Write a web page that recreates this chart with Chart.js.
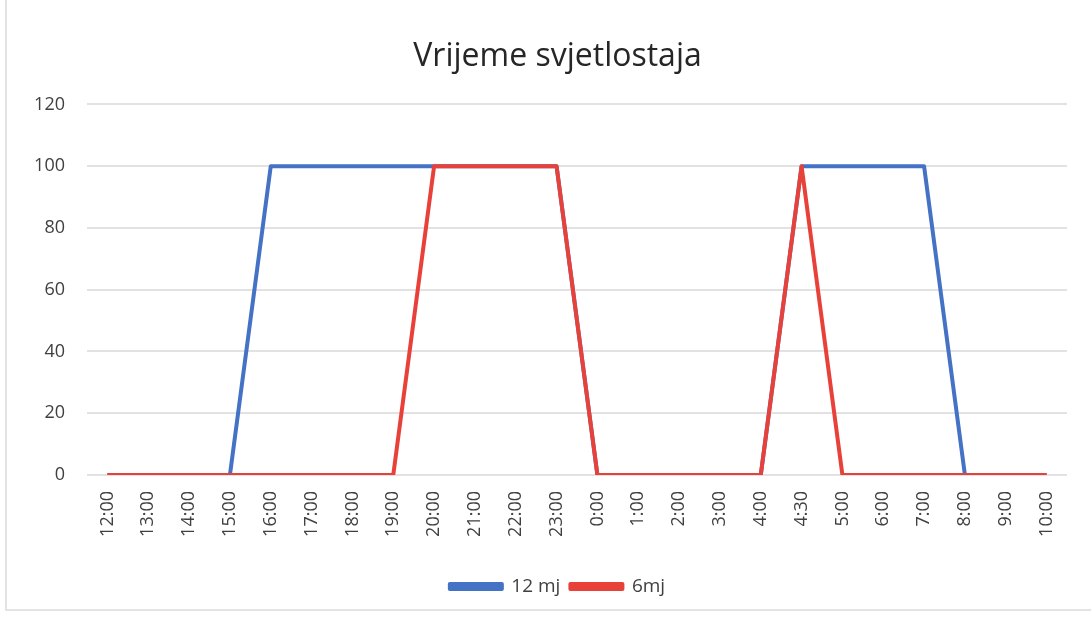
<!DOCTYPE html>
<html lang="hr">
<head>
<meta charset="UTF-8">
<title>Vrijeme svjetlostaja</title>
<style>
  html, body { margin: 0; padding: 0; background: #fff; }
  .wrap { position: relative; width: 1091px; height: 620px; }
  .frame { position: absolute; left: 5px; top: 0; width: 1086px; height: 611px;
           border-left: 2px solid #e3e3e3; border-bottom: 2px solid #e3e3e3; box-sizing: border-box; }
  canvas { position: absolute; left: 0; top: 0; }
</style>
</head>
<body>
<div class="wrap">
  <div class="frame"></div>
  <canvas id="chart" width="1091" height="620"></canvas>
</div>
<script src="https://cdn.jsdelivr.net/npm/chart.js"></script>
<script>
const times = ['12:00', '13:00', '14:00', '15:00', '16:00', '17:00', '18:00', '19:00',
  '20:00', '21:00', '22:00', '23:00', '0:00', '1:00', '2:00', '3:00', '4:00', '4:30',
  '5:00', '6:00', '7:00', '8:00', '9:00', '10:00'];
const months12 = [0, 0, 0, 0, 100, 100, 100, 100, 100, 100, 100, 100, 0, 0, 0, 0, 0, 100,
  100, 100, 100, 0, 0, 0];
const months6 = [0, 0, 0, 0, 0, 0, 0, 0, 100, 100, 100, 100, 0, 0, 0, 0, 0, 100,
  0, 0, 0, 0, 0, 0];
const yTicks = [0, 20, 40, 60, 80, 100, 120];

const FONT = '"Open Sans", "Noto Sans", sans-serif';

// title and legend sit a bit right of the canvas centre in the original
const shiftCenter = {
  id: 'shiftCenter',
  afterLayout(chart) {
    for (const box of [chart.titleBlock, chart.legend]) {
      if (!box) continue;
      box.left += 24;
      box.right += 24;
    }
  }
};

new Chart(document.getElementById('chart'), {
  type: 'line',
  data: {
    labels: times,
    datasets: [{
      label: '12 mj',
      data: months12,
      borderColor: '#4472C4',
      backgroundColor: '#4472C4',
      borderWidth: 4,
      borderJoinStyle: 'round',
      pointRadius: 0,
      tension: 0,
      order: 2
    }, {
      label: '6mj',
      data: months6,
      borderColor: '#E8413A',
      backgroundColor: '#E8413A',
      borderWidth: 4,
      borderJoinStyle: 'round',
      pointRadius: 0,
      tension: 0,
      order: 1
    }]
  },
  plugins: [shiftCenter],
  options: {
    responsive: false,
    animation: false,
    layout: { padding: { top: 18, right: 24, bottom: 14, left: 0 } },
    scales: {
      x: {
        offset: true,
        grid: { display: false },
        border: { display: false },
        ticks: {
          color: '#404040',
          font: { family: FONT, size: 18 },
          minRotation: 90,
          maxRotation: 90,
          autoSkip: false,
          padding: 8
        },
        afterFit: (axis) => { axis.height = 92; }
      },
      y: {
        min: 0,
        max: 120,
        afterBuildTicks: (axis) => { axis.ticks = yTicks.map(v => ({ value: v })); },
        grid: { color: '#e2e2e2', lineWidth: 2, drawTicks: false },
        border: { display: false },
        ticks: {
          color: '#404040',
          font: { family: FONT, size: 18 },
          padding: 22
        },
        afterFit: (axis) => { axis.width = 87; }
      }
    },
    plugins: {
      title: {
        display: true,
        text: 'Vrijeme svjetlostaja',
        color: '#262626',
        font: { family: FONT, size: 32, weight: 'normal' },
        padding: { top: 20, bottom: 28 }
      },
      legend: {
        position: 'bottom',
        labels: {
          color: '#404040',
          font: { family: FONT, size: 19 },
          boxWidth: 52,
          boxHeight: 5,
          padding: 10,
          sort: (a, b) => a.datasetIndex - b.datasetIndex
        }
      },
      tooltip: { enabled: false }
    }
  }
});
</script>
</body>
</html>
